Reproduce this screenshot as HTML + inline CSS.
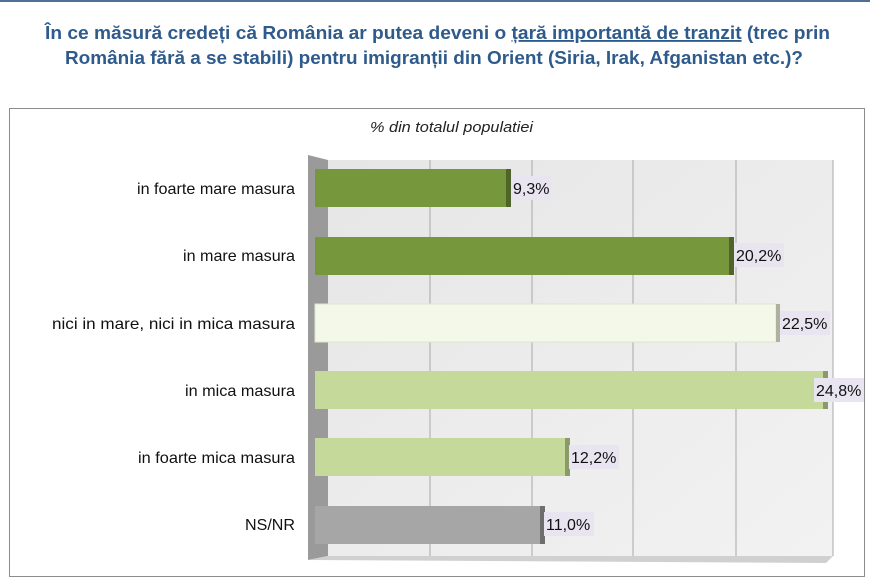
<!DOCTYPE html>
<html><head><meta charset="utf-8"><style>
body{margin:0;background:#fff;}
svg{display:block;font-family:"Liberation Sans",Arial,sans-serif;}
</style></head><body>
<svg width="870" height="586" xmlns="http://www.w3.org/2000/svg">
<defs>
<linearGradient id="wall" x1="0" y1="0" x2="1" y2="1"><stop offset="0" stop-color="#e6e6e6"/><stop offset="1" stop-color="#f2f2f2"/></linearGradient>
</defs>
<rect x="0" y="0" width="870" height="2" fill="#4f6f95"/>
<text x="45" y="39" font-size="18.5" font-weight="bold" fill="#2f5b8c" textLength="785" lengthAdjust="spacingAndGlyphs">În ce măsură credeți că România ar putea deveni o <tspan text-decoration="underline">țară importantă de tranzit</tspan> (trec prin</text>
<text x="65" y="64" font-size="18.5" font-weight="bold" fill="#2f5b8c" textLength="738" lengthAdjust="spacingAndGlyphs">România fără a se stabili) pentru imigranții din Orient (Siria, Irak, Afganistan etc.)?</text>
<rect x="9.5" y="108.5" width="855" height="468" fill="#fff" stroke="#8c8c8c"/>
<text x="370" y="132" font-size="15" font-style="italic" fill="#222" textLength="163" lengthAdjust="spacingAndGlyphs">% din totalul populatiei</text>
<rect x="328" y="160" width="505" height="396" fill="url(#wall)"/>
<polygon points="308,155 328,160 328,556 308,560" fill="#9a9a9a"/>
<polygon points="308,560 328,556 833,556 826,563" fill="#d0d0d0"/>
<g stroke="#a8a8a8" stroke-width="1">
<line x1="430" y1="160" x2="430" y2="556"/><line x1="532" y1="160" x2="532" y2="556"/>
<line x1="633" y1="160" x2="633" y2="556"/><line x1="736" y1="160" x2="736" y2="556"/>
<line x1="833" y1="160" x2="833" y2="556"/>
</g>
<g font-size="16" fill="#111">
<rect x="315" y="169" width="191" height="38" fill="#77973d"/><rect x="506" y="169" width="5" height="38" fill="#4e6428"/>
<rect x="511" y="176" width="40" height="24" fill="#e8e4f0"/><text x="513" y="194">9,3%</text>
<rect x="315" y="237" width="414" height="38" fill="#77973d"/><rect x="729" y="237" width="5" height="38" fill="#4e6428"/>
<rect x="734" y="243" width="50" height="24" fill="#e8e4f0"/><text x="736" y="261">20,2%</text>
<rect x="315" y="304" width="461" height="38" fill="#f3f8e8" stroke="#dde6cc"/><rect x="776" y="304" width="4" height="38" fill="#b0b0a0"/>
<rect x="780" y="311" width="50" height="24" fill="#e8e4f0"/><text x="782" y="329">22,5%</text>
<rect x="315" y="371" width="508" height="38" fill="#c4d99a"/><rect x="823" y="371" width="5" height="38" fill="#8a9a6a"/>
<rect x="814" y="378" width="50" height="24" fill="#e8e4f0"/><text x="816" y="396">24,8%</text>
<rect x="315" y="438" width="250" height="38" fill="#c4d99a"/><rect x="565" y="438" width="5" height="38" fill="#8a9a6a"/>
<rect x="569" y="445" width="50" height="24" fill="#e8e4f0"/><text x="571" y="463">12,2%</text>
<rect x="315" y="506" width="225" height="38" fill="#a6a6a6"/><rect x="540" y="506" width="5" height="38" fill="#6e6e6e"/>
<rect x="544" y="512" width="50" height="24" fill="#e8e4f0"/><text x="546" y="530">11,0%</text>
</g>
<g font-size="16" fill="#111" text-anchor="end">
<text x="295" y="194" textLength="158" lengthAdjust="spacingAndGlyphs">in foarte mare masura</text>
<text x="295" y="261" textLength="112" lengthAdjust="spacingAndGlyphs">in mare masura</text>
<text x="295" y="329" textLength="243" lengthAdjust="spacingAndGlyphs">nici in mare, nici in mica masura</text>
<text x="295" y="396" textLength="110" lengthAdjust="spacingAndGlyphs">in mica masura</text>
<text x="295" y="463" textLength="157" lengthAdjust="spacingAndGlyphs">in foarte mica masura</text>
<text x="295" y="530" textLength="50" lengthAdjust="spacingAndGlyphs">NS/NR</text>
</g>
</svg>
</body></html>
